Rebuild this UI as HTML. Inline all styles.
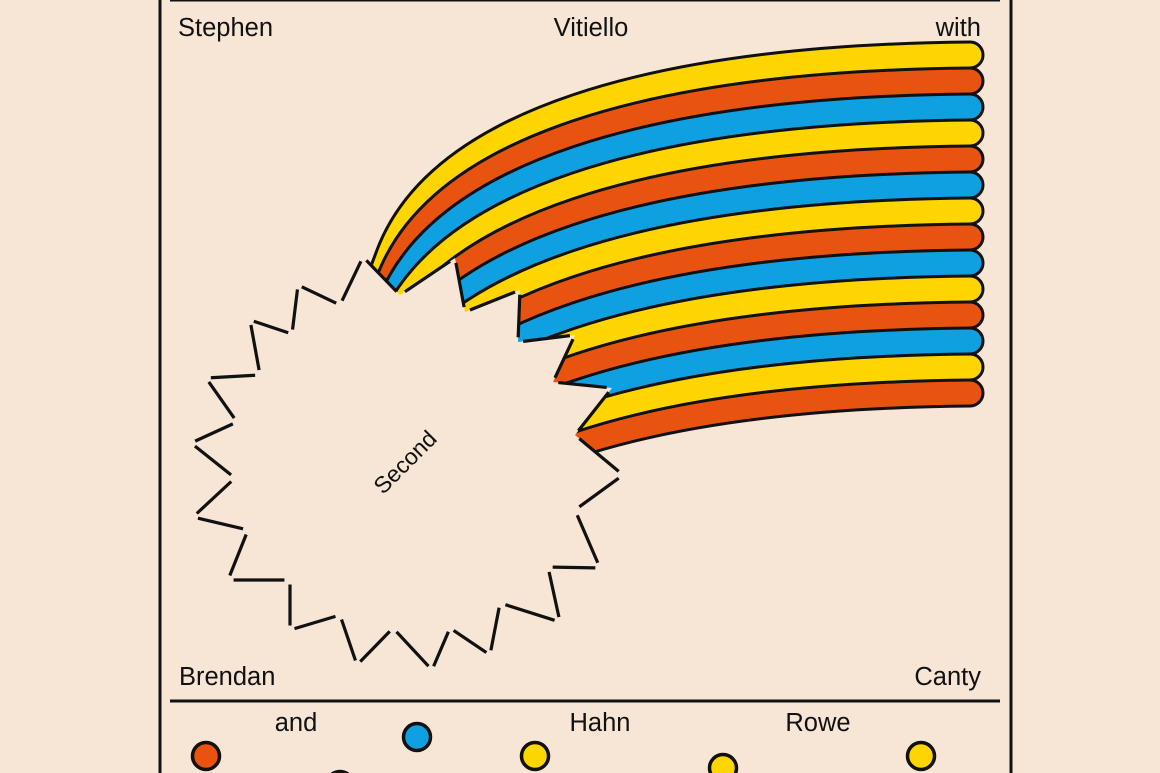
<!DOCTYPE html>
<html><head><meta charset="utf-8"><style>
html,body{margin:0;padding:0;background:#f7e5d6;overflow:hidden;width:1160px;height:773px;}
svg{display:block;}
text{font-family:"Liberation Sans",Arial,sans-serif;fill:#111;}
</style></head><body>
<svg width="1160" height="773" viewBox="0 0 1160 773" xmlns="http://www.w3.org/2000/svg">
<defs>
<clipPath id="cl"><polygon points="330,224 700,603 971,603 971,0 330,0"/></clipPath>
<path id="cv" d="M 337 356 L 347 330 L 377 250 C 430 110, 650 45, 971 42"/>
<path id="st" d="M 337 356 L 347 330 L 377 250 C 430 110, 650 45, 971 42 L 971 68 C 650 71, 430 136, 377 276 L 347 356 L 337 382 Z"/>
</defs>
<rect width="1160" height="773" fill="#f7e5d6"/>
<line x1="160" y1="0" x2="160" y2="773" stroke="#111" stroke-width="3"/>
<line x1="1011" y1="0" x2="1011" y2="773" stroke="#111" stroke-width="3"/>
<line x1="170" y1="0.5" x2="1000" y2="0.5" stroke="#111" stroke-width="2"/>
<line x1="170" y1="701" x2="1000" y2="701" stroke="#111" stroke-width="3"/>

<g clip-path="url(#cl)">
<use href="#st" fill="#ffd500" transform="translate(0,0)"/>
<use href="#st" fill="#e8540f" transform="translate(0,26)"/>
<use href="#st" fill="#0ea0e0" transform="translate(0,52)"/>
<use href="#st" fill="#ffd500" transform="translate(0,78)"/>
<use href="#st" fill="#e8540f" transform="translate(0,104)"/>
<use href="#st" fill="#0ea0e0" transform="translate(0,130)"/>
<use href="#st" fill="#ffd500" transform="translate(0,156)"/>
<use href="#st" fill="#e8540f" transform="translate(0,182)"/>
<use href="#st" fill="#0ea0e0" transform="translate(0,208)"/>
<use href="#st" fill="#ffd500" transform="translate(0,234)"/>
<use href="#st" fill="#e8540f" transform="translate(0,260)"/>
<use href="#st" fill="#0ea0e0" transform="translate(0,286)"/>
<use href="#st" fill="#ffd500" transform="translate(0,312)"/>
<use href="#st" fill="#e8540f" transform="translate(0,338)"/>
<g fill="none" stroke="#111" stroke-width="3">
<use href="#cv" transform="translate(0,0)"/>
<use href="#cv" transform="translate(0,26)"/>
<use href="#cv" transform="translate(0,52)"/>
<use href="#cv" transform="translate(0,78)"/>
<use href="#cv" transform="translate(0,104)"/>
<use href="#cv" transform="translate(0,130)"/>
<use href="#cv" transform="translate(0,156)"/>
<use href="#cv" transform="translate(0,182)"/>
<use href="#cv" transform="translate(0,208)"/>
<use href="#cv" transform="translate(0,234)"/>
<use href="#cv" transform="translate(0,260)"/>
<use href="#cv" transform="translate(0,286)"/>
<use href="#cv" transform="translate(0,312)"/>
<use href="#cv" transform="translate(0,338)"/>
<use href="#cv" transform="translate(0,364)"/>
</g>
</g>
<g stroke="#111" stroke-width="3">
<path d="M 970 42 A 13 13 0 0 1 970 68" fill="#ffd500"/>
<path d="M 970 68 A 13 13 0 0 1 970 94" fill="#e8540f"/>
<path d="M 970 94 A 13 13 0 0 1 970 120" fill="#0ea0e0"/>
<path d="M 970 120 A 13 13 0 0 1 970 146" fill="#ffd500"/>
<path d="M 970 146 A 13 13 0 0 1 970 172" fill="#e8540f"/>
<path d="M 970 172 A 13 13 0 0 1 970 198" fill="#0ea0e0"/>
<path d="M 970 198 A 13 13 0 0 1 970 224" fill="#ffd500"/>
<path d="M 970 224 A 13 13 0 0 1 970 250" fill="#e8540f"/>
<path d="M 970 250 A 13 13 0 0 1 970 276" fill="#0ea0e0"/>
<path d="M 970 276 A 13 13 0 0 1 970 302" fill="#ffd500"/>
<path d="M 970 302 A 13 13 0 0 1 970 328" fill="#e8540f"/>
<path d="M 970 328 A 13 13 0 0 1 970 354" fill="#0ea0e0"/>
<path d="M 970 354 A 13 13 0 0 1 970 380" fill="#ffd500"/>
<path d="M 970 380 A 13 13 0 0 1 970 406" fill="#e8540f"/>
</g>

<polygon fill="#f7e5d6" points="363,257 340,305 298,285 292,334 250,320 260,375 206,378 237,422 191,443 235,478 193,517 248,530 228,580 290,580 290,630 340,615 357,665 393,628 432,670 450,628 490,655 500,603 560,622 548,567 600,568 575,510 623,475 575,435 612,388 553,382 575,335 518,342 520,290 465,312 455,258 400,295"/>
<g stroke="#111" stroke-width="3.2">
<line x1="363" y1="257" x2="340" y2="305" pathLength="100" stroke-dasharray="0 9 82 9"/>
<line x1="340" y1="305" x2="298" y2="285" pathLength="100" stroke-dasharray="0 9 82 9"/>
<line x1="298" y1="285" x2="292" y2="334" pathLength="100" stroke-dasharray="0 9 82 9"/>
<line x1="292" y1="334" x2="250" y2="320" pathLength="100" stroke-dasharray="0 9 82 9"/>
<line x1="250" y1="320" x2="260" y2="375" pathLength="100" stroke-dasharray="0 9 82 9"/>
<line x1="260" y1="375" x2="206" y2="378" pathLength="100" stroke-dasharray="0 9 82 9"/>
<line x1="206" y1="378" x2="237" y2="422" pathLength="100" stroke-dasharray="0 9 82 9"/>
<line x1="237" y1="422" x2="191" y2="443" pathLength="100" stroke-dasharray="0 9 82 9"/>
<line x1="191" y1="443" x2="235" y2="478" pathLength="100" stroke-dasharray="0 9 82 9"/>
<line x1="235" y1="478" x2="193" y2="517" pathLength="100" stroke-dasharray="0 9 82 9"/>
<line x1="193" y1="517" x2="248" y2="530" pathLength="100" stroke-dasharray="0 9 82 9"/>
<line x1="248" y1="530" x2="228" y2="580" pathLength="100" stroke-dasharray="0 9 82 9"/>
<line x1="228" y1="580" x2="290" y2="580" pathLength="100" stroke-dasharray="0 9 82 9"/>
<line x1="290" y1="580" x2="290" y2="630" pathLength="100" stroke-dasharray="0 9 82 9"/>
<line x1="290" y1="630" x2="340" y2="615" pathLength="100" stroke-dasharray="0 9 82 9"/>
<line x1="340" y1="615" x2="357" y2="665" pathLength="100" stroke-dasharray="0 9 82 9"/>
<line x1="357" y1="665" x2="393" y2="628" pathLength="100" stroke-dasharray="0 9 82 9"/>
<line x1="393" y1="628" x2="432" y2="670" pathLength="100" stroke-dasharray="0 9 82 9"/>
<line x1="432" y1="670" x2="450" y2="628" pathLength="100" stroke-dasharray="0 9 82 9"/>
<line x1="450" y1="628" x2="490" y2="655" pathLength="100" stroke-dasharray="0 9 82 9"/>
<line x1="490" y1="655" x2="500" y2="603" pathLength="100" stroke-dasharray="0 9 82 9"/>
<line x1="500" y1="603" x2="560" y2="622" pathLength="100" stroke-dasharray="0 9 82 9"/>
<line x1="560" y1="622" x2="548" y2="567" pathLength="100" stroke-dasharray="0 9 82 9"/>
<line x1="548" y1="567" x2="600" y2="568" pathLength="100" stroke-dasharray="0 9 82 9"/>
<line x1="600" y1="568" x2="575" y2="510" pathLength="100" stroke-dasharray="0 9 82 9"/>
<line x1="575" y1="510" x2="623" y2="475" pathLength="100" stroke-dasharray="0 9 82 9"/>
<line x1="623" y1="475" x2="575" y2="435" pathLength="100" stroke-dasharray="0 9 82 9"/>
<line x1="575" y1="435" x2="612" y2="388" pathLength="100" stroke-dasharray="0 9 82 9"/>
<line x1="612" y1="388" x2="553" y2="382" pathLength="100" stroke-dasharray="0 9 82 9"/>
<line x1="553" y1="382" x2="575" y2="335" pathLength="100" stroke-dasharray="0 9 82 9"/>
<line x1="575" y1="335" x2="518" y2="342" pathLength="100" stroke-dasharray="0 9 82 9"/>
<line x1="518" y1="342" x2="520" y2="290" pathLength="100" stroke-dasharray="0 9 82 9"/>
<line x1="520" y1="290" x2="465" y2="312" pathLength="100" stroke-dasharray="0 9 82 9"/>
<line x1="465" y1="312" x2="455" y2="258" pathLength="100" stroke-dasharray="0 9 82 9"/>
<line x1="455" y1="258" x2="400" y2="295" pathLength="100" stroke-dasharray="0 9 82 9"/>
<line x1="400" y1="295" x2="363" y2="257" pathLength="100" stroke-dasharray="0 9 82 9"/>
</g>
<text x="405" y="470" font-size="23" text-anchor="middle" transform="rotate(-45 405 462)">Second</text>

<text x="178" y="36" font-size="25.5">Stephen</text>
<text x="591" y="36" font-size="25.5" text-anchor="middle">Vitiello</text>
<text x="981" y="36" font-size="25.5" text-anchor="end">with</text>
<text x="179" y="685" font-size="25.5">Brendan</text>
<text x="981" y="685" font-size="25.5" text-anchor="end">Canty</text>
<text x="296" y="731" font-size="25.5" text-anchor="middle">and</text>
<text x="600" y="731" font-size="25.5" text-anchor="middle">Hahn</text>
<text x="818" y="731" font-size="25.5" text-anchor="middle">Rowe</text>

<g stroke="#111" stroke-width="3.5">
<circle cx="206" cy="756" r="13.5" fill="#e8540f"/>
<circle cx="417" cy="737" r="13.5" fill="#0ea0e0"/>
<circle cx="535" cy="756" r="13.5" fill="#ffd500"/>
<circle cx="723" cy="768" r="13.5" fill="#ffd500"/>
<circle cx="921" cy="756" r="13.5" fill="#ffd500"/>
<circle cx="340" cy="785" r="13.5" fill="#7a7a2a"/>
</g>
</svg>
</body></html>
